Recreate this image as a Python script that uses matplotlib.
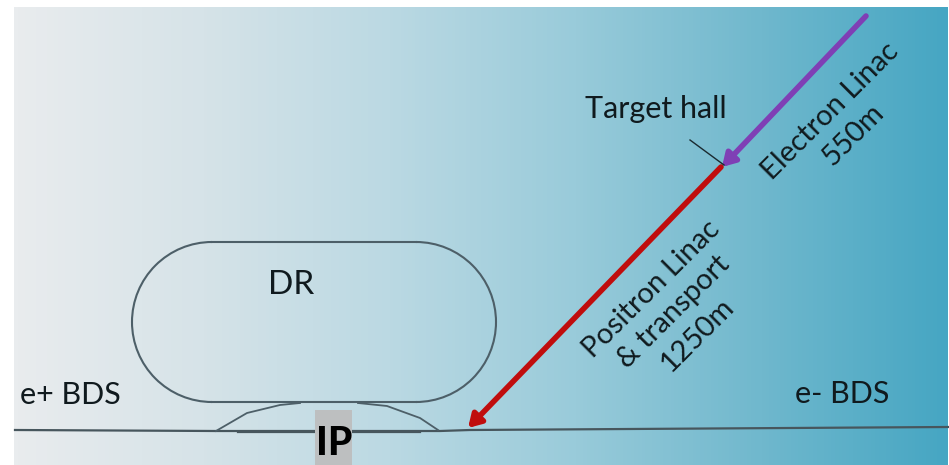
import matplotlib.pyplot as plt
import numpy as np
from matplotlib.colors import LinearSegmentedColormap
from matplotlib.patches import Arc

plt.rcParams['font.family'] = ['Lato', 'DejaVu Sans']

# everything is in image pixels, y goes down
W, H = 949, 465
bg_colors = ['#e9ecee', '#d6e3e8', '#bbd9e3', '#99cbda', '#70b8cd', '#46a6c3']

beam_x = [15, 215, 440, 470, 948]
beam_y = [430, 431, 431, 430, 427]
inner_x = [238, 315, 352, 420]
inner_y = [432, 432, 432, 432]
left_dogleg_x = [216, 247, 280, 300]
left_dogleg_y = [431, 413, 405, 403]
right_dogleg_x = [358, 387, 420, 438]
right_dogleg_y = [403, 406, 418, 430]

fig = plt.figure(figsize=(9.49, 4.65), dpi=100)
ax = fig.add_axes([0, 0, 1, 1])
ax.set_xlim(0, W)
ax.set_ylim(H, 0)
ax.axis('off')

cmap = LinearSegmentedColormap.from_list('bg', bg_colors)
ax.imshow(np.linspace(0, 1, 256).reshape(1, -1), cmap=cmap, aspect='auto',
          extent=[14, 948, H, 8], zorder=0)

# damping ring, straight sides plus two half circles
ring_kw = dict(color='#4d5f68', lw=1.5, zorder=2)
ax.plot([212, 416], [242, 242], **ring_kw)
ax.plot([212, 416], [402, 402], **ring_kw)
ax.add_patch(Arc((212, 322), 160, 160, theta1=90, theta2=270, **ring_kw))
ax.add_patch(Arc((416, 322), 160, 160, theta1=-90, theta2=90, **ring_kw))

line_kw = dict(color='#47565d', lw=1.6, zorder=2)
ax.plot(beam_x, beam_y, **line_kw)
ax.plot(inner_x, inner_y, **line_kw)
ax.plot(left_dogleg_x, left_dogleg_y, color='#4d5f68', lw=1.3, zorder=2)
ax.plot(right_dogleg_x, right_dogleg_y, color='#4d5f68', lw=1.3, zorder=2)

# IP marker
ax.fill_between([315, 352], 410, 465, color='#bdbfc0', lw=0, zorder=3)
ax.text(334, 443, 'IP', fontsize=28, fontweight='black', color='black',
        ha='center', va='center', zorder=4)

# linac arrows
ax.annotate('', xy=(722, 167), xytext=(866, 16), zorder=5,
            arrowprops=dict(arrowstyle='-|>,head_length=0.75,head_width=0.45', color='#7f3fb5',
                            lw=4, shrinkA=0, shrinkB=0))
ax.annotate('', xy=(468, 428), xytext=(721, 167), zorder=5,
            arrowprops=dict(arrowstyle='-|>,head_length=0.75,head_width=0.45', color='#c00d0d',
                            lw=4, shrinkA=0, shrinkB=0))
ax.plot([690, 724], [140, 165], color='#1a2a30', lw=1, zorder=6)

txt = dict(color='#101a1e', fontsize=22, ha='center', va='center', zorder=6)
ax.text(656, 109, 'Target hall', **txt)
ax.text(291, 285, 'DR', **{**txt, 'fontsize': 24})
ax.text(70, 395, 'e+ BDS', **txt)
ax.text(842, 394, 'e- BDS', **txt)

rot = dict(rotation=45, rotation_mode='anchor', linespacing=1.3, **{**txt, 'fontsize': 21})
ax.text(842, 123, 'Electron Linac\n550m', **rot)
ax.text(674, 312, 'Positron Linac\n& transport\n1250m', **rot)

fig.savefig('out.png', dpi=100)
